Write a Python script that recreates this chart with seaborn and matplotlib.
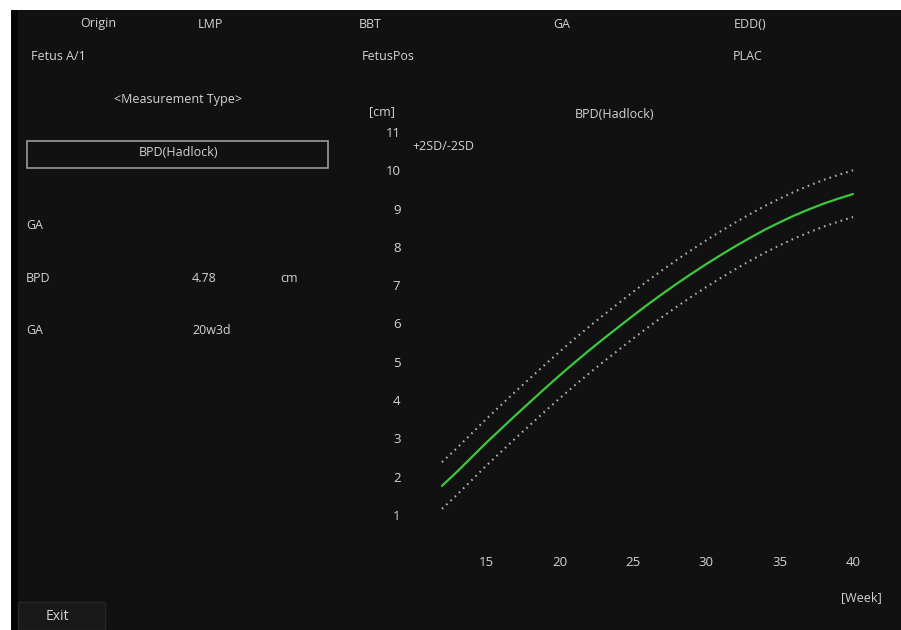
import matplotlib
matplotlib.use("Agg")
import matplotlib.pyplot as plt
import pandas as pd
import seaborn as sns
from matplotlib.patches import Rectangle

sns.set_theme(style="dark")
plt.rcParams["font.family"] = ["Open Sans", "DejaVu Sans"]

W, H = 901, 630
BG = "#111111"
TXT = "#d4d4d4"

# BPD (Hadlock) growth curve
weeks = [12, 13, 14, 15, 16, 17, 18, 19, 20, 21, 22, 23, 24, 25, 26,
         27, 28, 29, 30, 31, 32, 33, 34, 35, 36, 37, 38, 39, 40]
bpd_mean = [1.76, 2.12, 2.50, 2.88, 3.24, 3.60, 3.95, 4.30, 4.64, 4.97, 5.29, 5.60, 5.90, 6.20, 6.49,
            6.77, 7.04, 7.30, 7.55, 7.79, 8.02, 8.24, 8.45, 8.64, 8.82, 8.98, 9.13, 9.26, 9.38]
bpd_upper = [2.38, 2.74, 3.12, 3.50, 3.86, 4.22, 4.57, 4.92, 5.26, 5.59, 5.91, 6.22, 6.52, 6.82, 7.11,
             7.39, 7.66, 7.92, 8.17, 8.41, 8.64, 8.86, 9.07, 9.26, 9.44, 9.60, 9.75, 9.88, 10.0]
bpd_lower = [1.16, 1.52, 1.90, 2.28, 2.64, 3.00, 3.35, 3.70, 4.04, 4.37, 4.69, 5.00, 5.30, 5.60, 5.89,
             6.17, 6.44, 6.70, 6.95, 7.19, 7.42, 7.64, 7.85, 8.04, 8.22, 8.38, 8.53, 8.66, 8.78]
x_ticks = [15, 20, 25, 30, 35, 40]
y_ticks = [1, 2, 3, 4, 5, 6, 7, 8, 9, 10, 11]

curve = pd.DataFrame({"week": weeks, "mean": bpd_mean, "upper": bpd_upper, "lower": bpd_lower})

fig = plt.figure(figsize=(W / 100, H / 100), dpi=100)
fig.patch.set_facecolor("white")
fig.add_artist(Rectangle((11 / W, 0), 1, (H - 10) / H, transform=fig.transFigure,
                         facecolor=BG, edgecolor="none", zorder=0))
fig.add_artist(Rectangle((11 / W, 0), 7 / W, (H - 10) / H, transform=fig.transFigure,
                         facecolor="#050505", edgecolor="none", zorder=0))
# exit button
fig.add_artist(Rectangle((18 / W, 0), 87 / W, 28 / H, transform=fig.transFigure,
                         facecolor="#191919", edgecolor="#262626", lw=1, zorder=0))
# measurement type box
fig.add_artist(Rectangle((27 / W, 1 - 168 / H), 301 / W, 27 / H, transform=fig.transFigure,
                         facecolor="none", edgecolor="#9a9a9a", lw=1.2, zorder=1))


def put(x, y, s, ha="left", size=9):
    fig.text(x / W, 1 - y / H, s, ha=ha, va="center", color=TXT, fontsize=size)


# header
put(98, 24, "Origin", "center")
put(210, 24, "LMP", "center")
put(370, 24, "BBT", "center")
put(562, 24, "GA", "center")
put(750, 24, "EDD()", "center")
put(31, 57, "Fetus A/1")
put(362, 57, "FetusPos")
put(748, 57, "PLAC", "center")

# left panel
put(178, 99, "<Measurement Type>", "center")
put(178, 153, "BPD(Hadlock)", "center")
put(26, 225, "GA")
put(26, 279, "BPD")
put(192, 279, "4.78")
put(280, 279, "cm")
put(26, 330, "GA")
put(192, 330, "20w3d")
put(46, 616, "Exit", size=10)

# chart header
put(382, 112, "[cm]", "center")
put(615, 115, "BPD(Hadlock)", "center")
put(412, 146, "+2SD/-2SD")
put(861, 598, "[Week]", "center")

# axes placed in pixel box 420..880 x 120..530
L, R, T, B = 420, 880, 120, 530
ax = fig.add_axes([L / W, 1 - B / H, (R - L) / W, (B - T) / H])
ax.set_facecolor("none")

sns.lineplot(data=curve, x="week", y="upper", ax=ax, color="#b0b0b0", lw=1.5,
             linestyle=(0, (0.8, 2.0)))
sns.lineplot(data=curve, x="week", y="lower", ax=ax, color="#b0b0b0", lw=1.5,
             linestyle=(0, (0.8, 2.0)))
sns.lineplot(data=curve, x="week", y="mean", ax=ax, color="#3cc83c", lw=1.6)

px_w, px_v = 14.68, 38.3
ax.set_xlim(15 + (L - 486) / px_w, 15 + (R - 486) / px_w)
ax.set_ylim(1 + (515 - B) / px_v, 1 + (515 - T) / px_v)
ax.set_xticks(x_ticks)
ax.set_yticks(y_ticks)
ax.tick_params(axis="both", length=0, colors=TXT, labelsize=9.5)
ax.tick_params(axis="x", pad=19)
ax.tick_params(axis="y", pad=14)
ax.set_xlabel("")
ax.set_ylabel("")
ax.grid(False)
for s in ax.spines.values():
    s.set_visible(False)

fig.savefig("out.png", dpi=100, facecolor=fig.get_facecolor())
